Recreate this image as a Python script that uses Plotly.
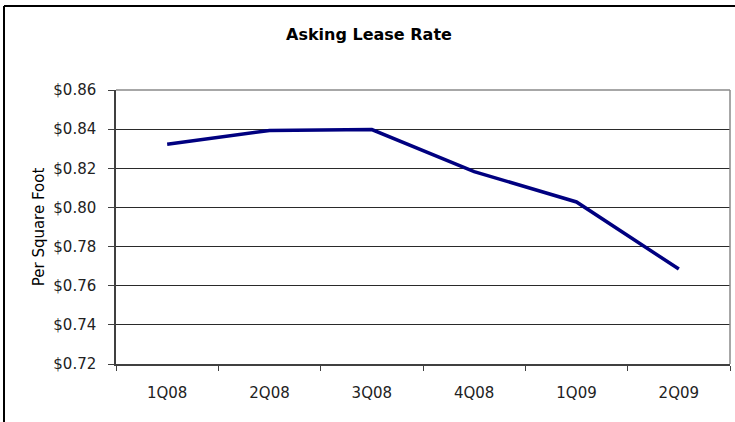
import plotly.graph_objects as go

quarters = ["1Q08", "2Q08", "3Q08", "4Q08", "1Q09", "2Q09"]
rates = [0.8323, 0.8393, 0.8398, 0.8183, 0.8028, 0.7685]
y_ticks = [0.72, 0.74, 0.76, 0.78, 0.80, 0.82, 0.84, 0.86]
y_tick_labels = ["$%.2f" % v for v in y_ticks]

W, H = 735, 422
L, R, T, B = 116, 5, 90, 58
pw, ph = W - L - R, H - T - B

def px_x(p):
    return (p - L) / pw

def px_y(p):
    return (H - B - p) / ph

font = "DejaVu Sans"

fig = go.Figure()
fig.add_trace(go.Scatter(
    x=quarters, y=rates, mode="lines",
    line=dict(color="#000080", width=3.5),
    showlegend=False, hoverinfo="x+y",
))

fig.update_layout(
    width=W, height=H,
    margin=dict(l=L, r=R, t=T, b=B),
    paper_bgcolor="white", plot_bgcolor="white",
    title=dict(text="<b>Asking Lease Rate</b>", x=0.502, xref="container",
               xanchor="center", y=1 - 34 / H, yref="container", yanchor="middle",
               font=dict(family=font, size=16, color="#000000")),
    font=dict(family=font, color="#222222"),
)

fig.update_xaxes(
    type="category", range=[-0.5, 5.5],
    showline=True, linecolor="#404040", linewidth=1.5,
    ticks="outside", ticklen=5, tickcolor="#404040", tickson="boundaries",
    showgrid=False, tickfont=dict(size=15, color="#222222"),
    ticklabelstandoff=14,
    zeroline=False,
)
fig.update_yaxes(
    range=[0.72, 0.86], tickvals=y_ticks, ticktext=y_tick_labels,
    showline=True, linecolor="#404040", linewidth=1.5,
    ticks="outside", ticklen=6, tickcolor="#404040",
    showgrid=True, gridcolor="#2a2a2a", gridwidth=1,
    tickfont=dict(size=15, color="#222222"), zeroline=False,
    ticklabelstandoff=9,
    title=dict(text="Per Square Foot", font=dict(size=15, color="#000000"), standoff=5),
)

# plot-area border on top and right (gray)
fig.add_shape(type="line", xref="paper", yref="paper", x0=1, x1=1, y0=0, y1=1,
              line=dict(color="#8a8a8a", width=1.5))
fig.add_shape(type="line", xref="paper", yref="paper", x0=0, x1=1, y0=1, y1=1,
              line=dict(color="#8a8a8a", width=1.5))
# outer chart border (left and top)
fig.add_shape(type="line", xref="paper", yref="paper",
              x0=px_x(4), x1=px_x(4), y0=px_y(H + 5), y1=px_y(6),
              line=dict(color="#000000", width=2))
fig.add_shape(type="line", xref="paper", yref="paper",
              x0=px_x(4), x1=px_x(W + 5), y0=px_y(6), y1=px_y(6),
              line=dict(color="#000000", width=2))

fig.write_html("out.html")
